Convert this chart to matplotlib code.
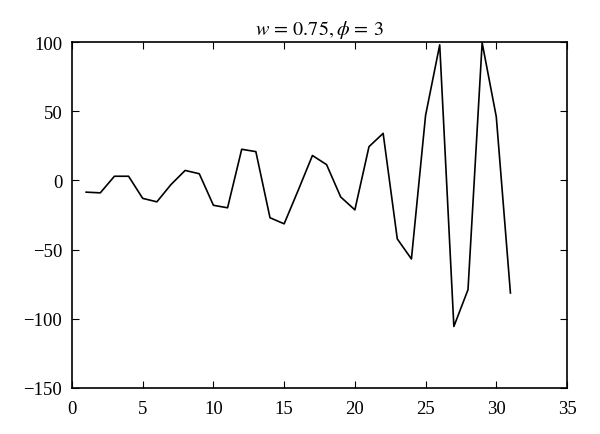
import numpy as np
import matplotlib
matplotlib.use('Agg')
import matplotlib.pyplot as plt

# values
x = list(range(1, 32))
y = [-8.5, -9, 3, 3, -13, -15.5, -3, 7.2, 4.8, -18, -19.8, 22.5, 20.8, -27, -31.4,
     -7, 18, 11.4, -12, -21.3, 24.4, 34, -42.3, -56.8, 47, 98, -105.6, -79, 99.5, 46, -81.4]
xticks = [0, 5, 10, 15, 20, 25, 30, 35]
yticks = [-150, -100, -50, 0, 50, 100]

plt.rcParams['font.family'] = ['Liberation Serif', 'DejaVu Serif']
plt.rcParams['mathtext.fontset'] = 'stix'

fig = plt.figure(figsize=(6, 4.35), dpi=100)
ax = fig.add_axes([0.12, 0.106, 0.825, 0.795])
ax.plot(x, y, color='black', lw=1.2)

ax.set_xlim(0, 35)
ax.set_ylim(-150, 100)
ax.set_xticks(xticks)
ax.set_yticks(yticks)
ax.tick_params(direction='in', top=True, right=True, length=5, labelsize=13.5)
ax.tick_params(axis='x', pad=9)
ax.tick_params(axis='y', pad=7)
for s in ax.spines.values():
    s.set_linewidth(1.2)
ax.set_title(r'$w\,=\,0.75, \phi\,=\,3$', fontsize=14.5, pad=6)

fig.savefig('out.png', dpi=100)
